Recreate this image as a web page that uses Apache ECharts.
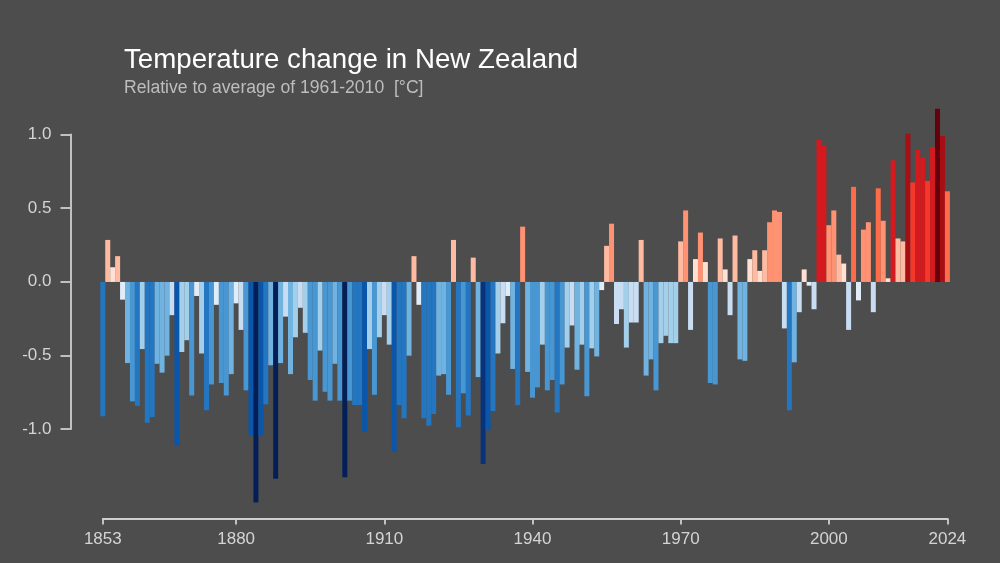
<!DOCTYPE html>
<html>
<head>
<meta charset="utf-8">
<title>Temperature change in New Zealand</title>
<script src="https://cdn.jsdelivr.net/npm/echarts@6/dist/echarts.min.js"></script>
<style>
html, body { margin: 0; padding: 0; background: #4d4d4d; }
#chart { width: 1000px; height: 563px; }
</style>
</head>
<body>
<div id="chart"></div>
<script>
var firstYear = 1853;

// anomaly per year, 1853..2024
var anomalies = [
	-0.91, 0.285, 0.10, 0.175, -0.12, -0.55, -0.81, -0.84, -0.455, -0.955,
	-0.915, -0.555, -0.615, -0.50, -0.225, -1.11, -0.475, -0.395, -0.77, -0.095,
	-0.485, -0.87, -0.695, -0.155, -0.685, -0.77, -0.625, -0.145, -0.325, -0.735,
	-1.04, -1.495, -1.04, -0.83, -0.565, -1.335, -0.55, -0.235, -0.625, -0.375,
	-0.175, -0.345, -0.665, -0.805, -0.465, -0.745, -0.805, -0.555, -0.805, -1.325,
	-0.805, -0.835, -0.835, -1.015, -0.455, -0.765, -0.375, -0.225, -0.425, -1.15,
	-0.835, -0.925, -0.50, 0.175, -0.155, -0.925, -0.975, -0.895, -0.635, -0.625,
	-0.765, 0.285, -0.985, -0.755, -0.905, 0.165, -0.645, -1.235, -1.005, -0.875,
	-0.485, -0.28, -0.095, -0.59, -0.835, 0.375, -0.61, -0.785, -0.715, -0.425,
	-0.735, -0.665, -0.885, -0.695, -0.445, -0.295, -0.595, -0.425, -0.775, -0.45,
	-0.505, -0.055, 0.245, 0.395, -0.285, -0.185, -0.445, -0.275, -0.275, 0.285,
	-0.635, -0.525, -0.735, -0.415, -0.365, -0.415, -0.415, 0.275, 0.485, -0.325,
	0.155, 0.335, 0.135, -0.685, -0.695, 0.295, 0.085, -0.225, 0.315, -0.525,
	-0.535, 0.155, 0.215, 0.075, 0.215, 0.405, 0.485, 0.475, -0.315, -0.87,
	-0.545, -0.205, 0.085, -0.025, -0.185, 0.965, 0.925, 0.385, 0.485, 0.185,
	0.125, -0.325, 0.645, -0.125, 0.355, 0.405, -0.205, 0.635, 0.415, 0.025,
	0.825, 0.295, 0.275, 1.005, 0.675, 0.895, 0.845, 0.685, 0.915, 1.175,
	0.99, 0.615
];

var xTickYears = [1853, 1880, 1910, 1940, 1970, 2000, 2024];

// colour bins, low to high
var binEdges = [-1.32, -1.155, -0.99, -0.825, -0.66, -0.495, -0.33, -0.165, 0, 0.165, 0.33, 0.495, 0.66, 0.825, 0.99, 1.155];
var binColors = ['#041f57', '#08337a', '#0a56aa', '#2576c0', '#4896d2', '#70b2e0', '#a3cfea', '#c9ddf2', '#e0edf9',
	'#ffe0d2', '#ffbba1', '#ff9272', '#ff6c4a', '#f23a2c', '#d41a1f', '#a80f15', '#67000d'];

var pieces = binColors.map(function(color, i) {
	var piece = { color: color };
	if (i > 0) piece.gte = binEdges[i - 1];
	if (i < binEdges.length) piece.lt = binEdges[i];
	return piece;
});

var axisColor = '#cfcfcf';
var labelColor = '#d4d4d4';
var fontFamily = '"Liberation Sans", Arial, sans-serif';

var myChart = echarts.init(document.getElementById('chart'));

myChart.setOption({
	animation: false,
	backgroundColor: '#4d4d4d',
	title: [{
		text: 'Temperature change in New Zealand',
		left: 119,
		top: 41,
		textStyle: { color: '#ffffff', fontSize: 27.7, fontWeight: 'normal', fontFamily: fontFamily }
	}, {
		text: 'Relative to average of 1961-2010  [\u00b0C]',
		left: 119,
		top: 74,
		textStyle: { color: '#bdbdbd', fontSize: 17.6, fontWeight: 'normal', fontFamily: fontFamily }
	}],
	grid: [
		{ left: 102.8, right: 52.6, top: 105, bottom: 44.5 },
		{ left: 70.5, width: 10, top: 134.5, bottom: 134 } // only carries the short y axis
	],
	xAxis: [{
		type: 'value',
		gridIndex: 0,
		min: firstYear,
		max: 2024,
		splitLine: { show: false },
		axisLine: { show: true, onZero: false, lineStyle: { color: axisColor, width: 1.8 } },
		axisTick: { show: true, length: 6, customValues: xTickYears, lineStyle: { color: axisColor, width: 1.8 } },
		axisLabel: {
			customValues: xTickYears,
			margin: 12,
			color: labelColor,
			fontSize: 17,
			fontFamily: fontFamily,
			formatter: function(v) { return String(v); }
		}
	}, {
		type: 'value',
		gridIndex: 1,
		min: 0,
		max: 1,
		show: false
	}],
	yAxis: [{
		type: 'value',
		gridIndex: 0,
		min: -1.604,
		max: 1.2,
		show: false
	}, {
		type: 'value',
		gridIndex: 1,
		min: -1,
		max: 1,
		interval: 0.5,
		splitLine: { show: false },
		axisLine: { show: true, onZero: false, lineStyle: { color: axisColor, width: 1.8 } },
		axisTick: { show: true, length: 10, lineStyle: { color: axisColor, width: 1.8 } },
		axisLabel: {
			margin: 19,
			color: labelColor,
			fontSize: 17,
			fontFamily: fontFamily,
			formatter: function(v) { return v.toFixed(1); }
		}
	}],
	visualMap: {
		show: false,
		type: 'piecewise',
		seriesIndex: 0,
		dimension: 1,
		pieces: pieces
	},
	series: [{
		type: 'bar',
		xAxisIndex: 0,
		yAxisIndex: 0,
		barWidth: 5,
		clip: false,
		data: anomalies.map(function(v, i) { return [firstYear + i, v]; })
	}]
});
</script>
</body>
</html>
